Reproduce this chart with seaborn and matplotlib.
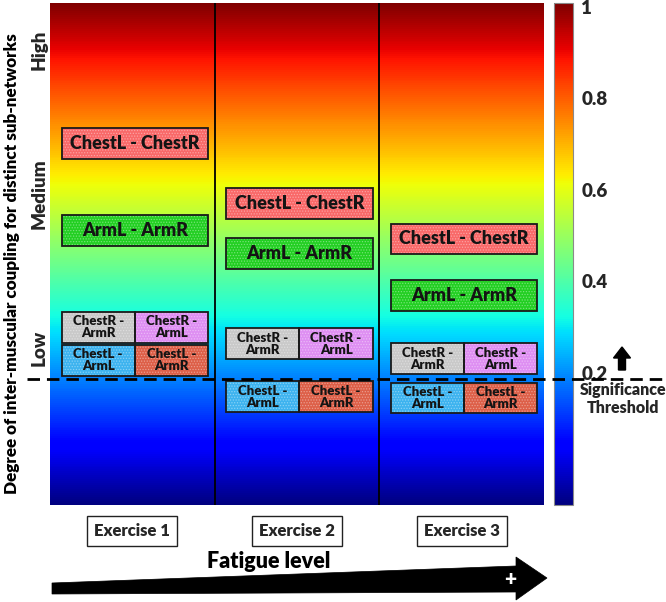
import numpy as np
import pandas as pd
import matplotlib
matplotlib.use("Agg")
import matplotlib.pyplot as plt
import matplotlib.patches as mpatches
from matplotlib.transforms import Affine2D, blended_transform_factory
import seaborn as sns

# ---------------- data ----------------
exercises = ["Exercise 1", "Exercise 2", "Exercise 3"]
chestL_chestR = [0.702, 0.570, 0.493]
armL_armR = [0.511, 0.461, 0.369]
chestR_armR = [0.300, 0.264, 0.231]
chestR_armL = [0.300, 0.264, 0.231]
chestL_armL = [0.228, 0.148, 0.145]
chestL_armR = [0.228, 0.148, 0.145]
threshold = 0.186
level_labels = ["High", "Medium", "Low"]
level_values = [0.906, 0.593, 0.255]
cbar_ticks = [0.2, 0.4, 0.6, 0.8, 1.0]
cbar_ticklabels = ["0.2", "0.4", "0.6", "0.8", "1"]

pairs = [
    ("ChestL - ChestR", chestL_chestR, "#f96868", "full"),
    ("ArmL - ArmR", armL_armR, "#22cf22", "full"),
    ("ChestR -\nArmR", chestR_armR, "#c9c9c9", "left"),
    ("ChestR -\nArmL", chestR_armL, "#de8ef2", "right"),
    ("ChestL -\nArmL", chestL_armL, "#3db3ef", "left"),
    ("ChestL -\nArmR", chestL_armR, "#dd5f48", "right"),
]

# ---------------- style ----------------
sns.set_theme(style="white")
plt.rcParams["font.family"] = ["Lato", "DejaVu Sans"]
plt.rcParams["hatch.linewidth"] = 0.6
BOLD = "heavy"

W, H = 666, 602
fig = plt.figure(figsize=(W / 100, H / 100), dpi=100)
fig.patch.set_facecolor("white")
PX = Affine2D().scale(1 / W, -1 / H).translate(0, 1) + fig.transFigure

ymin, ymax = -0.0885, 1.0087
rect_main = [50 / W, 1 - 505 / H, 494 / W, 502 / H]
rect_cbar = [554 / W, 1 - 505 / H, 19 / W, 502 / H]

# background gradient via seaborn heatmap (with its colorbar)
bg_ax = fig.add_axes(rect_main)
cax = fig.add_axes(rect_cbar)
grad = pd.DataFrame({"v": np.linspace(ymax, ymin, 500)})
sns.heatmap(grad, cmap="jet", vmin=ymin, vmax=ymax, ax=bg_ax, cbar_ax=cax,
            xticklabels=False, yticklabels=False)
bg_ax.set_axis_off()
cbar = bg_ax.collections[0].colorbar
cbar.set_ticks(cbar_ticks, labels=cbar_ticklabels)
cbar.ax.tick_params(length=0, pad=6, labelsize=13.5)
for t in cbar.ax.get_yticklabels():
    t.set_fontweight(BOLD)
cbar.outline.set_edgecolor("#8a8a8a")
cbar.outline.set_linewidth(0.8)

# overlay axes in data coordinates
ax = fig.add_axes(rect_main)
ax.patch.set_alpha(0)
ax.set_xlim(0, 3)
ax.set_ylim(ymin, ymax)
for s in ax.spines.values():
    s.set_visible(False)

# column dividers
for xd in [1, 2]:
    ax.axvline(xd, color="black", lw=1.3, zorder=2)

# boxes
h = 0.067
for i in range(len(exercises)):
    for label, vals, color, side in pairs:
        v = vals[i]
        if side == "full":
            x0, w, fs = i + 0.07, 0.89, 13
        elif side == "left":
            x0, w, fs = i + 0.07, 0.445, 9.5
        else:
            x0, w, fs = i + 0.515, 0.445, 9.5
        ax.add_patch(mpatches.Rectangle((x0, v - h / 2), w, h, facecolor=color,
                                        edgecolor="none", zorder=3))
        ax.add_patch(mpatches.Rectangle((x0, v - h / 2), w, h, fill=False,
                                        hatch="......", edgecolor=(1, 1, 1, 0.35),
                                        lw=0, zorder=4))
        ax.add_patch(mpatches.Rectangle((x0, v - h / 2), w, h, fill=False,
                                        edgecolor="#1a1a1a", lw=1.3, zorder=5))
        ax.text(x0 + w / 2, v, label, ha="center", va="center", fontsize=fs,
                fontweight=BOLD, color="#141414", linespacing=1.0, zorder=6)

# significance threshold dashed line
tr = blended_transform_factory(ax.transAxes, ax.transData)
ax.plot([-0.047, 1.243], [threshold, threshold], transform=tr, clip_on=False,
        color="black", lw=2.0, dashes=(4.5, 2.5), zorder=7)

# y axis: levels and label
ax.set_yticks(level_values, level_labels)
ax.tick_params(axis="y", length=0, pad=2)
for t in ax.get_yticklabels():
    t.set_rotation(90)
    t.set_va("center")
    t.set_fontsize(13.5)
    t.set_fontweight(BOLD)
ax.set_ylabel("Degree of inter-muscular coupling for distinct sub-networks",
              fontsize=12.3, fontweight=BOLD, color="black")
ax.yaxis.set_label_coords((12 - 50) / 494, 0.5 - 10 / 502)
ax.yaxis.label.set_va("center")

# x axis: exercises and fatigue label
ax.set_xticks([i + 0.5 for i in range(len(exercises))], exercises)
ax.tick_params(axis="x", length=0, pad=13)
for t in ax.get_xticklabels():
    t.set_fontsize(12)
    t.set_fontweight(BOLD)
    t.set_bbox(dict(boxstyle="square,pad=0.42", facecolor="white",
                    edgecolor="#222222", lw=1.0))
ax.set_xlabel("Fatigue level", fontsize=15.5, fontweight=BOLD, color="black")
ax.xaxis.set_label_coords((269 - 50) / 494, (505 - 561) / 502)
ax.xaxis.label.set_va("center")

# big fatigue arrow
arrow_pts = [(52, 583), (516, 566), (516, 557), (547, 578), (516, 600),
             (516, 592), (52, 594)]
fig.patches.append(mpatches.Polygon(arrow_pts, closed=True, facecolor="black",
                                    edgecolor="black", lw=0.5, transform=PX))
fig.text(510, 579, "+", transform=PX, color="white", fontsize=15,
         fontweight=BOLD, ha="center", va="center")

# significance annotation
fig.patches.append(mpatches.FancyArrow(622, 370, 0, -23, width=7, head_width=17,
                                       head_length=11, length_includes_head=True,
                                       facecolor="black", edgecolor="black",
                                       transform=PX))
fig.text(623, 399, "Significance\nThreshold", transform=PX, ha="center",
         va="center", fontsize=11.5, fontweight=BOLD, linespacing=1.15)

fig.savefig("out.png", dpi=100, facecolor="white")
